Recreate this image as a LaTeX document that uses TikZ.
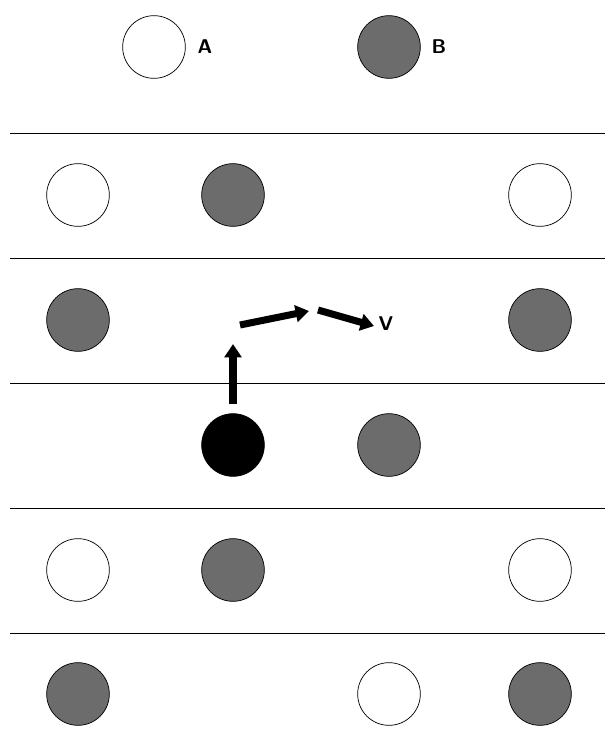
\documentclass[tikz,border=0pt]{standalone}
\usetikzlibrary{arrows.meta}
\definecolor{atomgrey}{RGB}{108,108,108}

\begin{document}
\begin{tikzpicture}[x=0.03cm,y=-0.03cm,line width=0.6pt,
    atom/.style={circle,draw=black,minimum size=1.88cm,inner sep=0pt},
    whiteatom/.style={atom,fill=white},
    greyatom/.style={atom,fill=atomgrey},
    blackatom/.style={atom,fill=black},
    lbl/.style={font=\fontsize{17}{19}\selectfont\sffamily\bfseries},
    move/.style={line width=6pt,-{Triangle[length=0.4cm,width=0.5cm]}}]
  \useasboundingbox (0,0) rectangle (607,756);
  % key
  \node[whiteatom] (kA) at (154,47) {};
  \node[greyatom] (kB) at (389,47) {};
  \node[lbl] (lA) at (205,47) {A};
  \node[lbl] (lB) at (439,47) {B};
  % layer boundaries
  \coordinate (L1) at (10,133);  \coordinate (R1) at (605,133);
  \coordinate (L2) at (10,258);  \coordinate (R2) at (605,258);
  \coordinate (L3) at (10,383);  \coordinate (R3) at (605,383);
  \coordinate (L4) at (10,508);  \coordinate (R4) at (605,508);
  \coordinate (L5) at (10,633);  \coordinate (R5) at (605,633);
  \draw (L1) -- (R1) (L2) -- (R2) (L3) -- (R3) (L4) -- (R4) (L5) -- (R5);
  % layer 1
  \node[whiteatom] (a1) at (78,195) {};
  \node[greyatom] (b1) at (233,195) {};
  \node[whiteatom] (c1) at (540,195) {};
  % layer 2
  \node[greyatom] (a2) at (78,320) {};
  \node[greyatom] (c2) at (540,320) {};
  % layer 3
  \node[blackatom] (v3) at (233,445) {};
  \node[greyatom] (b3) at (389,445) {};
  % layer 4
  \node[whiteatom] (a4) at (78,570) {};
  \node[greyatom] (b4) at (233,570) {};
  \node[whiteatom] (c4) at (540,570) {};
  % layer 5
  \node[greyatom] (a5) at (78,694) {};
  \node[whiteatom] (b5) at (389,694) {};
  \node[greyatom] (c5) at (540,694) {};
  % jump path
  \coordinate (p0) at (233,404);
  \coordinate (p1) at (233,344);
  \coordinate (p2) at (240,325);
  \coordinate (p3) at (309,311);
  \coordinate (p4) at (318,310);
  \coordinate (p5) at (374,326);
  \draw[move] (p0) -- (p1);
  \draw[move] (p2) -- (p3);
  \draw[move] (p4) -- (p5);
  \node[lbl] (lV) at (386,324) {V};
\end{tikzpicture}
\end{document}
